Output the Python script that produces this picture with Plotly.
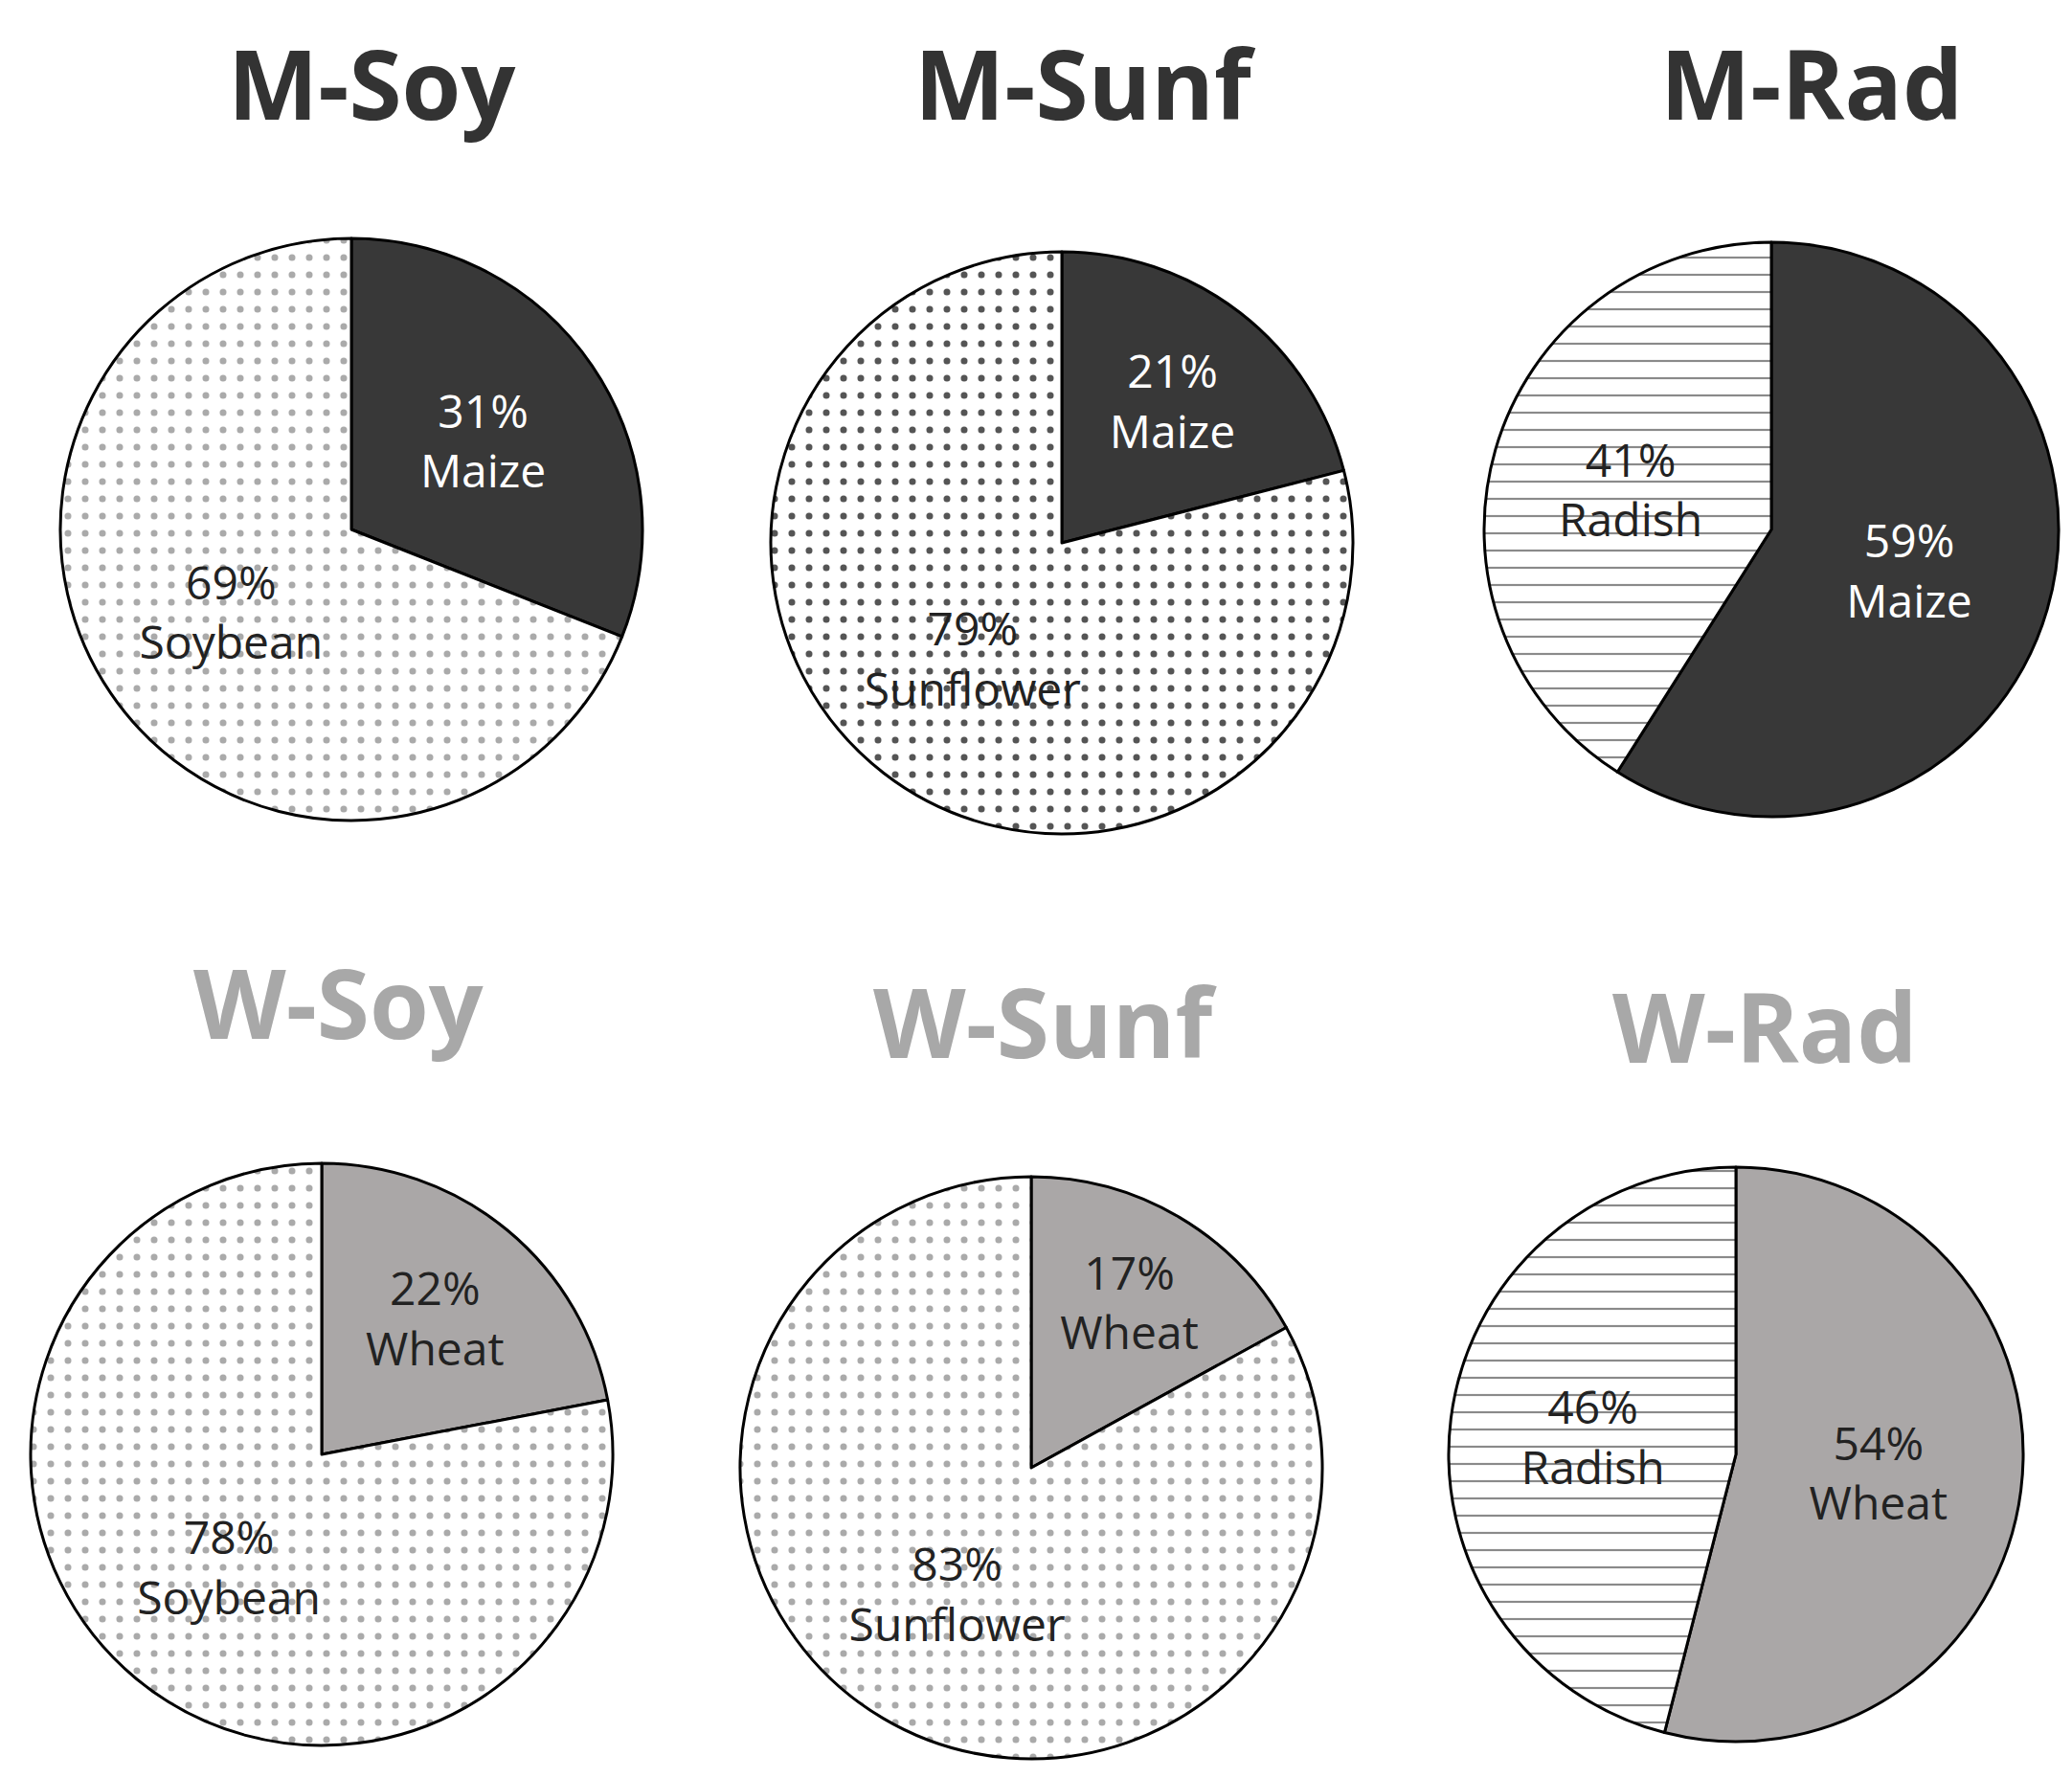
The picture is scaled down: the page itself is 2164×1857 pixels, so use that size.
import plotly.graph_objects as go

titles = ["M-Soy", "M-Sunf", "M-Rad", "W-Soy", "W-Sunf", "W-Rad"]
labels = [["Maize", "Soybean"], ["Maize", "Sunflower"], ["Maize", "Radish"],
          ["Wheat", "Soybean"], ["Wheat", "Sunflower"], ["Wheat", "Radish"]]
values = [[31, 69], [21, 79], [59, 41], [22, 78], [17, 83], [54, 46]]

W, H = 2164, 1857
# pie centers / radius in pixels, title positions
centers = [(359, 545, 304), (1101, 559, 304), (1842, 545, 300),
           (328, 1511, 304), (1069, 1525, 304), (1805, 1511, 300)]
title_pos = [(380, 78), (1125, 78), (1884, 78), (345, 1038), (1083, 1058), (1835, 1063)]
title_col = ["#333333"] * 3 + ["#a8a8a8"] * 3

fill = {"Maize": ("#383838", "", "#383838"),
        "Wheat": ("#aaa7a7", "", "#aaa7a7"),
        "Soybean": ("#f2f2f2", ".", "#aaaaaa"),
        "Sunflower": ("#f4f4f4", ".", "#aaaaaa"),
        "Radish": ("#ffffff", "-", "#8a8a8a")}
fill_top_sunf = ("#ffffff", ".", "#555555")

fig = go.Figure()
for i, (t, lab, val) in enumerate(zip(titles, labels, values)):
    cx, cy, r = centers[i]
    cols, shapes, fgs = [], [], []
    for l in lab:
        f = fill_top_sunf if (l == "Sunflower" and i < 3) else fill[l]
        cols.append(f[0]); shapes.append(f[1]); fgs.append(f[2])
    txtcol = ["white" if l == "Maize" else "#222222" for l in lab]
    fig.add_trace(go.Pie(
        labels=lab, values=val, sort=False, direction="clockwise", rotation=0,
        text=[f"{v}%<br>{l}" for v, l in zip(val, lab)], textinfo="text",
        textposition="inside", insidetextorientation="horizontal",
        textfont=dict(size=48, color=txtcol, family="Open Sans"),
        marker=dict(colors=cols, line=dict(color="black", width=3),
                    pattern=dict(shape=shapes, fgcolor=fgs, size=18, solidity=0.12)),
        domain=dict(x=[(cx - r) / W, (cx + r) / W], y=[1 - (cy + r) / H, 1 - (cy - r) / H]),
        showlegend=False, hoverinfo="label+percent"))
    tx, ty = title_pos[i]
    fig.add_annotation(x=tx / W, y=1 - ty / H, xref="paper", yref="paper", text=f"<b>{t}</b>",
                       xanchor="center", yanchor="middle", showarrow=False,
                       font=dict(size=100, color=title_col[i], family="Open Sans"))

fig.update_layout(width=W, height=H, margin=dict(l=0, r=0, t=0, b=0),
                  paper_bgcolor="white", plot_bgcolor="white")
fig.write_html("out.html")
